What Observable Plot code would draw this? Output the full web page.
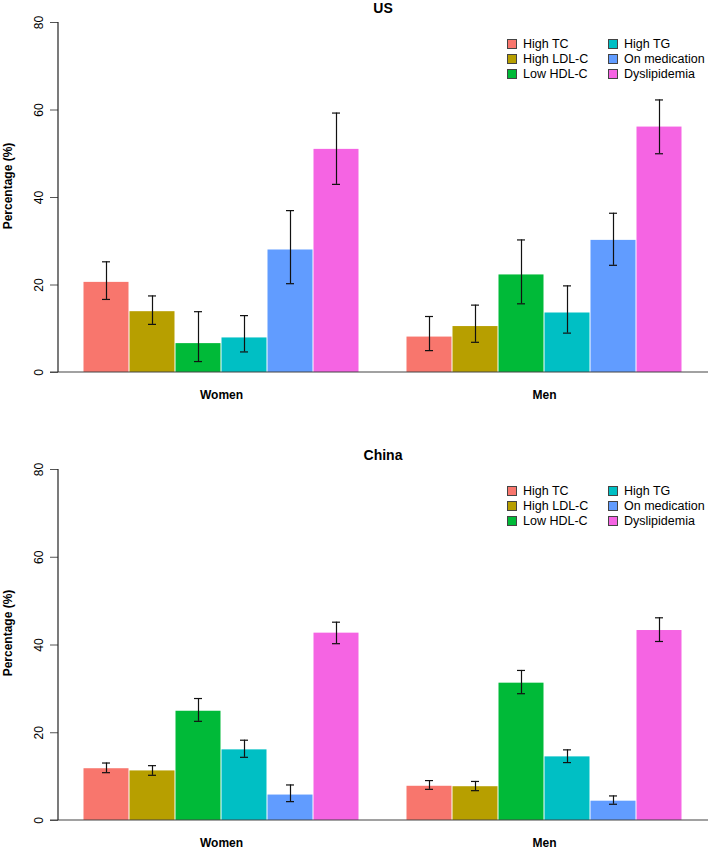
<!DOCTYPE html>
<html><head><meta charset="utf-8">
<script src="https://cdn.jsdelivr.net/npm/d3@7"></script>
<script src="https://cdn.jsdelivr.net/npm/@observablehq/plot@0.6"></script>
<style>
body{margin:0;background:#fff;font-family:"Liberation Sans",Arial,sans-serif;}
#root{position:relative;width:709px;height:852px;overflow:hidden;}
#root svg{position:absolute;left:0;}
.title{position:absolute;font-weight:bold;font-size:14px;transform:translate(-50%,-50%);white-space:nowrap;color:#000;}
.ylab{position:absolute;font-weight:bold;font-size:12px;transform:translate(-50%,-50%) rotate(-90deg);white-space:nowrap;color:#000;}
.legend{position:absolute;display:grid;grid-template-rows:repeat(3,15px);grid-auto-flow:column;grid-template-columns:101px 100px;font-size:12.5px;color:#000;}
.item{display:flex;align-items:center;white-space:nowrap;}
.sw{width:10px;height:10px;border:1px solid #444;margin-right:6px;box-sizing:border-box;}
</style>
</head><body>
<div id="root"></div>
<script>
// ---- data ----
const measures = ["High TC", "High LDL-C", "Low HDL-C", "High TG", "On medication", "Dyslipidemia"];
const colors = ["#F8766D", "#B79F00", "#00BA38", "#00BFC4", "#619CFF", "#F564E3"];
const sexes = ["Women", "Men"];
const yTicks = [0, 20, 40, 60, 80];
const panelTitles = ["US", "China"];
const yLabel = "Percentage (%)";

const usWomenPct = [20.6, 13.9, 6.6, 7.9, 28.0, 51.0];
const usWomenLo  = [16.7, 11.0, 2.5, 4.7, 20.3, 43.0];
const usWomenHi  = [25.3, 17.5, 13.9, 13.0, 37.0, 59.3];
const usMenPct   = [8.1, 10.5, 22.3, 13.6, 30.2, 56.1];
const usMenLo    = [5.0, 6.9, 15.7, 9.0, 24.5, 50.0];
const usMenHi    = [12.8, 15.4, 30.3, 19.8, 36.4, 62.3];

const cnWomenPct = [11.8, 11.3, 24.9, 16.1, 5.8, 42.7];
const cnWomenLo  = [10.9, 10.3, 22.6, 14.4, 4.3, 40.3];
const cnWomenHi  = [13.1, 12.5, 27.8, 18.3, 8.1, 45.2];
const cnMenPct   = [7.8, 7.7, 31.3, 14.5, 4.4, 43.3];
const cnMenLo    = [7.1, 6.8, 28.9, 13.2, 3.7, 40.8];
const cnMenHi    = [9.1, 8.9, 34.2, 16.1, 5.6, 46.2];

function rowsFor(wp, wl, wh, mp, ml, mh) {
  const out = [];
  measures.forEach((m, i) => out.push({sex: "Women", measure: m, value: wp[i], lo: wl[i], hi: wh[i]}));
  measures.forEach((m, i) => out.push({sex: "Men", measure: m, value: mp[i], lo: ml[i], hi: mh[i]}));
  return out;
}
const usRows = rowsFor(usWomenPct, usWomenLo, usWomenHi, usMenPct, usMenLo, usMenHi);
const cnRows = rowsFor(cnWomenPct, cnWomenLo, cnWomenHi, cnMenPct, cnMenLo, cnMenHi);

const root = document.getElementById("root");

function makePanel(rows, title, top, height, marginBottom) {
  const p = Plot.plot({
    width: 709, height,
    marginTop: 22, marginBottom, marginLeft: 83, marginRight: 27,
    style: {fontFamily: "'Liberation Sans', Arial, sans-serif", background: "white", color: "#000"},
    x: {domain: measures, padding: 0, axis: null},
    fx: {domain: sexes, paddingInner: 47 / 323, paddingOuter: 0},
    y: {domain: [0, 80]},
    color: {domain: measures, range: colors},
    marks: [
      Plot.barY(rows, {fx: "sex", x: "measure", y: "value", fill: "measure", insetLeft: 0.5, insetRight: 0.5}),
      Plot.ruleX(rows, {fx: "sex", x: "measure", y1: "lo", y2: "hi", stroke: "#111", strokeWidth: 1.2}),
      Plot.tickY(rows, {fx: "sex", x: "measure", y: "lo", stroke: "#111", strokeWidth: 1.2, insetLeft: 19, insetRight: 19}),
      Plot.tickY(rows, {fx: "sex", x: "measure", y: "hi", stroke: "#111", strokeWidth: 1.2, insetLeft: 19, insetRight: 19}),
      Plot.axisY({ticks: yTicks, tickSize: 8, dx: -25, tickRotate: -90, fontSize: 12, label: null, tickPadding: 8, stroke: "#555"}),
      Plot.axisFx({anchor: "bottom", tickSize: 0, tickPadding: 18, fontWeight: "bold", fontSize: 12, label: null})
    ]
  });
  const y = p.scale("y");
  const svg = d3.select(p);
  svg.append("line").attr("x1", 50).attr("x2", 708)
    .attr("y1", y.apply(0)).attr("y2", y.apply(0)).attr("stroke", "#444").attr("stroke-width", 1.2);
  svg.append("line").attr("x1", 58).attr("x2", 58)
    .attr("y1", y.apply(0)).attr("y2", y.apply(80)).attr("stroke", "#222").attr("stroke-width", 1.2);
  p.style.top = top + "px";
  root.appendChild(p);

  const t = document.createElement("div");
  t.className = "title"; t.textContent = title;
  t.style.left = "383px"; t.style.top = (top + 8) + "px";
  root.appendChild(t);

  const yl = document.createElement("div");
  yl.className = "ylab"; yl.textContent = yLabel;
  yl.style.left = "8px"; yl.style.top = (top + 186) + "px";
  root.appendChild(yl);

  const lg = document.createElement("div");
  lg.className = "legend";
  lg.style.left = "507px"; lg.style.top = (top + 36) + "px";
  measures.forEach((m, i) => {
    const it = document.createElement("div"); it.className = "item";
    const sw = document.createElement("span"); sw.className = "sw"; sw.style.background = colors[i];
    const tx = document.createElement("span"); tx.textContent = m;
    it.appendChild(sw); it.appendChild(tx); lg.appendChild(it);
  });
  root.appendChild(lg);
}

makePanel(usRows, panelTitles[0], 0, 447, 75);
makePanel(cnRows, panelTitles[1], 447, 405, 32);
</script>
</body></html>
